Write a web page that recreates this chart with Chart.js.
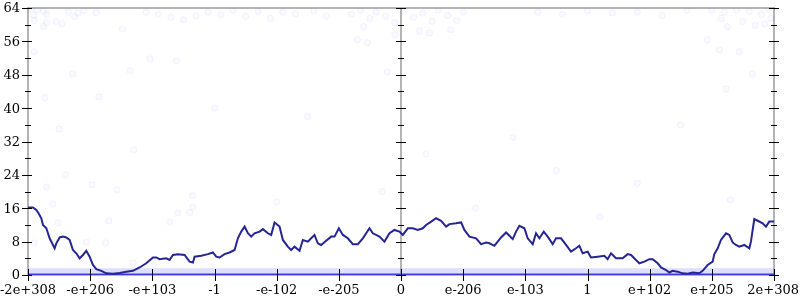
<!DOCTYPE html>
<html>
<head>
<meta charset="utf-8">
<script src="https://cdn.jsdelivr.net/npm/chart.js@4"></script>
<style>
  html, body { margin: 0; padding: 0; background: #fff; }
  #wrap { width: 800px; height: 300px; }
</style>
</head>
<body>
<div id="wrap"><canvas id="c" width="800" height="300"></canvas></div>
<script>
// x axis runs 0..12, one unit per labelled tick
const xTickLabels = ['-2e+308', '-e+206', '-e+103', '-1', '-e-102', '-e-205', '0',
  'e-206', 'e-103', '1', 'e+102', 'e+205', '2e+308'];
const yTicks = [0, 8, 16, 24, 32, 40, 48, 56, 64];
const yMinorTicks = [4, 12, 20, 28, 36, 44, 52, 60];

// main curve: x positions (in tick units) and values
const lineX = [
  0, 0.08, 0.134, 0.17, 0.214, 0.241, 0.295, 0.348, 0.402, 0.429, 0.456, 0.509, 0.563, 0.616,
  0.67, 0.723, 0.777, 0.831, 0.884, 0.938, 0.991, 1.045, 1.099, 1.179, 1.259, 1.367, 1.474,
  1.581, 1.688, 1.795, 1.902, 2.01, 2.063, 2.117, 2.224, 2.278, 2.331, 2.412,
  2.519, 2.599, 2.653, 2.68, 2.787, 2.894, 2.974, 3.028, 3.082, 3.162, 3.242, 3.323, 3.376,
  3.43, 3.484, 3.537, 3.591, 3.644, 3.725, 3.778, 3.859, 3.912, 3.966, 4.046, 4.1, 4.18,
  4.233, 4.287, 4.368, 4.421, 4.502, 4.555, 4.609, 4.662, 4.716, 4.796, 4.877,
  4.931, 5.0, 5.065, 5.145, 5.225, 5.306, 5.386, 5.493, 5.547, 5.654, 5.734, 5.815, 5.895,
  5.975, 6.029, 6.11, 6.19, 6.27, 6.35, 6.404, 6.485, 6.565, 6.645, 6.726, 6.779, 6.886,
  6.967, 7.02, 7.101, 7.208, 7.288, 7.369,
  7.422, 7.502, 7.556, 7.61, 7.69, 7.744, 7.797, 7.851, 7.904, 7.985, 8.038, 8.119, 8.172,
  8.226, 8.296, 8.36, 8.44, 8.494, 8.574, 8.655, 8.735, 8.815, 8.869, 8.922, 9.003, 9.056,
  9.164, 9.271, 9.324, 9.378, 9.458, 9.565, 9.646, 9.7, 9.78, 9.834, 9.914,
  9.995, 10.048, 10.129, 10.182, 10.263, 10.316, 10.37, 10.45, 10.531, 10.611, 10.692,
  10.799, 10.852, 10.933, 11.013, 11.04, 11.094, 11.147, 11.228, 11.281, 11.335, 11.388,
  11.442, 11.522, 11.603, 11.629, 11.683, 11.737, 11.817, 11.871, 11.924, 12.0
];
const lineY = [
  16.2, 16.2, 15.6, 14.8, 13.6, 12.0, 11.2, 8.8, 7.2, 6.4, 7.6, 9.0, 9.2, 9.0,
  8.4, 6.0, 5.2, 4.0, 4.8, 5.8, 4.4, 2.4, 1.4, 1.0, 0.4, 0.3, 0.5,
  0.8, 1.0, 1.8, 2.8, 4.2, 4.2, 3.8, 4.0, 3.6, 4.8, 5.0,
  4.8, 3.2, 3.0, 4.4, 4.6, 5.0, 5.4, 4.4, 4.2, 5.0, 5.4, 6.0, 8.8,
  10.4, 11.6, 10.0, 9.2, 10.0, 10.4, 11.0, 10.0, 9.6, 12.6, 11.6, 8.4, 6.8,
  6.0, 6.8, 5.8, 8.4, 8.0, 8.8, 9.6, 7.6, 7.2, 8.2, 9.2,
  9.2, 11.2, 9.6, 8.8, 7.4, 7.4, 8.8, 11.2, 10.0, 9.2, 8.0, 10.0, 10.8,
  10.4, 9.6, 11.2, 11.2, 10.8, 11.2, 12.0, 12.8, 13.6, 13.0, 11.6, 12.2, 12.4,
  12.6, 10.8, 9.2, 8.8, 7.4, 7.8,
  7.6, 7.0, 8.0, 9.0, 10.2, 9.4, 8.6, 10.4, 11.8, 11.2, 8.8, 7.4, 10.0,
  8.8, 10.4, 9.2, 7.4, 8.8, 8.8, 7.2, 5.6, 6.4, 7.0, 5.2, 5.6, 4.2,
  4.4, 4.6, 3.8, 5.2, 4.0, 4.0, 5.0, 4.8, 3.6, 2.8, 3.2,
  3.8, 3.8, 2.8, 1.8, 1.2, 0.6, 1.0, 0.8, 0.4, 0.3, 0.6,
  0.4, 1.0, 2.4, 3.2, 5.0, 6.4, 8.4, 10.0, 9.6, 7.8, 7.2,
  6.8, 7.2, 6.4, 8.0, 13.4, 13.0, 12.4, 11.6, 12.8, 12.8
];

// faint scatter cloud: x positions and values
const cloudX = [
  0.05, 0.15, 0.25, 0.3, 0.1, 0.1, 0.3, 0.45, 0.55, 0.25, 0.65, 0.8, 0.9, 0.75, 1.1, 1.52,
  1.9, 2.1, 2.3, 2.5, 2.7, 0.1, 0.72, 1.64, 1.96, 2.39, 0.27, 1.14,
  5.2, 5.35, 5.5, 5.6, 5.75, 5.9, 6.05, 6.2, 6.35, 6.5, 6.6, 6.75, 6.9, 7.0, 5.4, 6.3, 6.8,
  5.78, 5.3, 5.46, 5.9, 6.46,
  11.0, 11.2, 11.4, 11.6, 11.8, 11.9, 11.15, 11.5, 11.85, 11.25, 11.7, 11.95,
  10.93, 11.12, 11.44, 11.65, 11.23,
  2.9, 3.1, 3.3, 3.5, 3.7, 3.9, 4.1, 4.3, 4.6, 4.8, 8.2, 8.6, 9.0, 9.4, 9.8, 10.2, 10.6,
  0.5, 1.7, 3.0, 4.5, 5.7, 6.4, 7.8, 8.5, 9.8, 10.5, 11.3, 2.6, 4.0, 7.2, 9.2, 0.6, 1.3,
  0.3, 1.03, 1.43, 0.4, 0.48, 0.1, 0.94, 1.25, 0.75, 2.41, 2.28, 2.65, 2.65, 1.69, 2.0
];
const cloudY = [
  63.8, 63.5, 63.2, 62.5, 62.2, 61.0, 60.5, 60.8, 60.2, 59.6, 63.0, 62.8, 63.4, 62.0, 62.9, 59.0,
  63.0, 62.5, 61.8, 61.2, 62.1, 53.5, 48.2, 49.0, 51.8, 51.4, 42.5, 42.7,
  62.5, 63.5, 61.5, 63.0, 62.0, 60.5, 63.2, 61.8, 62.8, 60.8, 63.5, 62.2, 61.0, 63.0, 59.5, 58.5, 58.8,
  48.7, 56.4, 55.7, 57.6, 58.0,
  63.5, 63.0, 63.6, 63.2, 62.5, 63.8, 61.5, 60.8, 60.2, 59.5, 59.8, 61.5,
  56.4, 54.0, 53.5, 48.2, 44.6,
  63.0, 62.4, 63.5, 62.0, 63.2, 61.5, 63.0, 62.6, 63.3, 62.0, 63.0, 62.5, 63.3, 62.8, 63.0, 62.2, 63.4,
  35, 30, 40, 38, 20, 29, 33, 25, 22, 36, 18, 15, 17.5, 16, 14, 24, 13,
  21.1, 21.6, 20.4, 17.0, 12.5, 7.7, 7.9, 7.7, 4.8, 14.9, 12.7, 19.0, 16.3, 2.9, 3.4
];

// dense rows of points along the bottom
const zeroRow = [0, 0];
const lowRow = [0.9, 0.9];

const linePoints = lineX.map((x, i) => ({ x: x, y: lineY[i] }));
const cloudPoints = cloudX.map((x, i) => ({ x: x, y: cloudY[i] }));

const axisPlugin = {
  id: 'axisPlugin',
  beforeDatasetsDraw(chart) {
    const { ctx, chartArea: a, scales: { x, y } } = chart;
    ctx.save();
    ctx.strokeStyle = '#b4b4b4';
    ctx.lineWidth = 2;
    ctx.beginPath();
    ctx.moveTo(a.left, a.bottom); ctx.lineTo(a.left, a.top);
    ctx.lineTo(a.right, a.top); ctx.lineTo(a.right, a.bottom);
    const cx = x.getPixelForValue(6);
    ctx.moveTo(cx, a.top); ctx.lineTo(cx, a.bottom);
    ctx.moveTo(a.left, a.bottom); ctx.lineTo(a.right, a.bottom);
    ctx.stroke();
    ctx.restore();
  },
  afterDatasetsDraw(chart) {
    const { ctx, chartArea: a, scales: { x, y } } = chart;
    ctx.save();
    ctx.strokeStyle = '#000';
    ctx.lineWidth = 1;
    const axesX = [a.left, x.getPixelForValue(6), a.right];
    ctx.beginPath();
    axesX.forEach((ax, k) => {
      yTicks.forEach(t => {
        const py = Math.round(y.getPixelForValue(t)) + 0.5;
        const l = k === 0 ? 6 : 5;
        const r = k === 0 ? 4 : 5;
        ctx.moveTo(ax - l, py); ctx.lineTo(ax + r, py);
      });
      yMinorTicks.forEach(t => {
        const py = Math.round(y.getPixelForValue(t)) + 0.5;
        ctx.moveTo(ax - 3, py); ctx.lineTo(ax + 3, py);
      });
    });
    xTickLabels.forEach((lab, i) => {
      const px = Math.round(x.getPixelForValue(i)) + 0.5;
      ctx.moveTo(px, a.bottom - 6); ctx.lineTo(px, a.bottom + 6);
    });
    ctx.stroke();

    ctx.fillStyle = '#000';
    ctx.font = '13px "DejaVu Serif"';
    ctx.textAlign = 'right';
    ctx.textBaseline = 'middle';
    yTicks.forEach(t => ctx.fillText(String(t), a.left - 8, y.getPixelForValue(t) + 1));
    ctx.textAlign = 'center';
    ctx.textBaseline = 'middle';
    xTickLabels.forEach((lab, i) => {
      let px = x.getPixelForValue(i);
      if (i === xTickLabels.length - 1) px = Math.min(px, 800 - ctx.measureText(lab).width / 2 - 1);
      ctx.fillText(lab, px, a.bottom + 16);
    });
    ctx.restore();
  }
};

new Chart(document.getElementById('c'), {
  type: 'scatter',
  data: {
    datasets: [
      {
        data: cloudPoints,
        pointRadius: 3.2,
        pointBackgroundColor: 'rgba(80,80,255,0.035)',
        pointBorderColor: 'rgba(80,80,255,0.06)',
        pointBorderWidth: 1,
        showLine: false,
        order: 3
      },
      {
        data: lowRow.map((v, i) => ({ x: i * 12, y: v })),
        showLine: true,
        borderColor: 'rgba(70,70,255,0.18)',
        borderWidth: 6,
        pointRadius: 0,
        order: 2
      },
      {
        data: zeroRow.map((v, i) => ({ x: i * 12, y: v })),
        showLine: true,
        borderColor: 'rgba(40,40,225,0.85)',
        borderWidth: 3,
        pointRadius: 0,
        order: 1
      },
      {
        data: linePoints,
        showLine: true,
        borderColor: '#262692',
        borderWidth: 2,
        pointRadius: 0,
        tension: 0,
        order: 0
      }
    ]
  },
  options: {
    responsive: false,
    animation: false,
    layout: { padding: { left: 28, right: 26, top: 8, bottom: 25 } },
    plugins: { legend: { display: false }, tooltip: { enabled: false } },
    scales: {
      x: { type: 'linear', min: 0, max: 12, display: false },
      y: { type: 'linear', min: 0, max: 64, display: false }
    }
  },
  plugins: [axisPlugin]
});
</script>
</body>
</html>
